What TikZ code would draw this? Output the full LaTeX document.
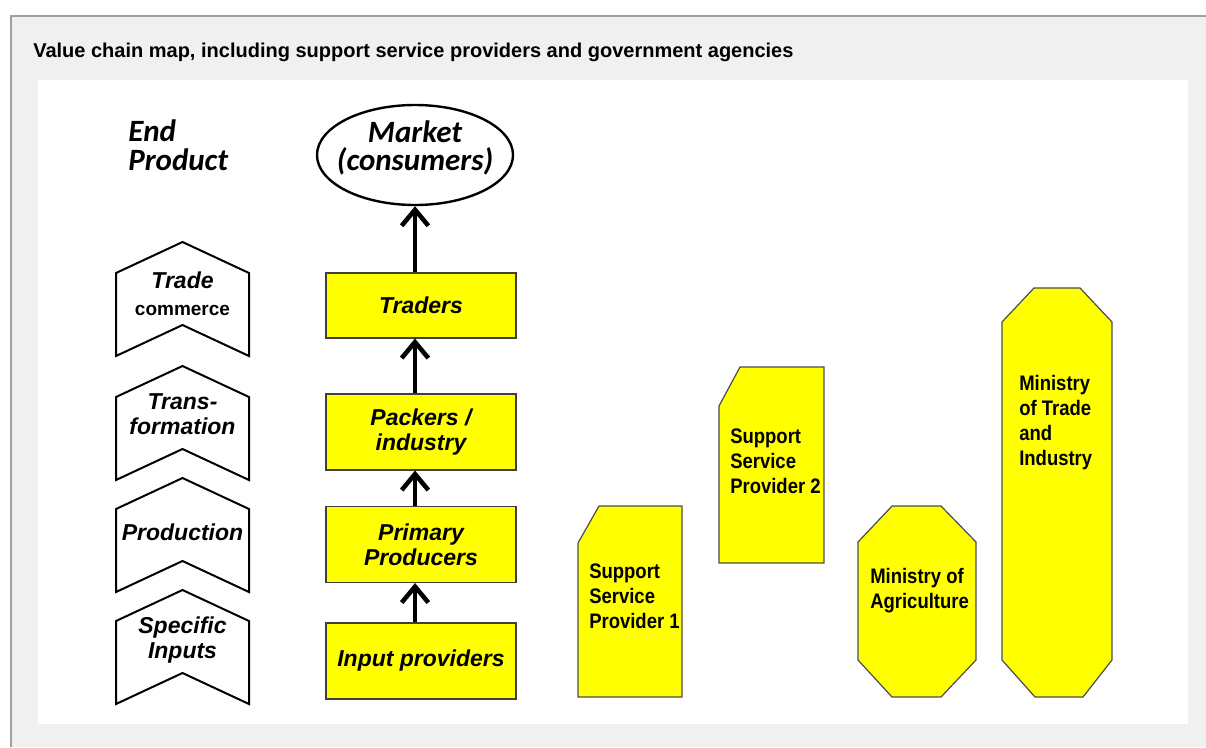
\documentclass[tikz,border=0pt]{standalone}
\usepackage{fontspec}
\setmainfont{Liberation Sans}
\newfontfamily\calfont{Carlito}
\newfontfamily\narrowfont[FakeStretch=0.88]{Liberation Sans}
\usetikzlibrary{arrows.meta,shapes.geometric}
\definecolor{panelgray}{HTML}{F0F0F0}
\definecolor{bordergray}{HTML}{A0A0A0}
\definecolor{boxyellow}{HTML}{FFFF00}
\def\chevron(#1){\draw[line width=1.5pt, fill=white] (116, {#1+31}) -- (182.5, #1) -- (249, {#1+31}) -- (249, {#1+114}) -- (182.5, {#1+83}) -- (116, {#1+114}) -- cycle;}
\tikzset{
  chainbox/.style={draw=black!75, line width=0.8pt, fill=boxyellow, minimum width=142.5pt, inner sep=0pt, align=center, font=\fontsize{17.25}{18.75}\selectfont\bfseries\itshape},
  flow/.style={line width=3.4pt, -{Straight Barb[length=12pt, width=20pt]}},
  stagetext/.style={inner sep=0pt, align=center, font=\fontsize{17.25}{18.75}\selectfont\bfseries\itshape},
  agencytext/.style={inner sep=0pt, anchor=west, align=left, font=\narrowfont\bfseries\fontsize{15.75}{18.75}\selectfont},
  agency/.style={draw=black!70, line width=0.9pt, fill=boxyellow}
}

\begin{document}
\begin{tikzpicture}[x=0.75pt, y=-0.75pt]
			%%%%% START %%%%%
			\useasboundingbox (0, 0) rectangle (1206, 747);
			
			\fill[panelgray] (11, 16) rectangle (1206, 747);
			\draw[bordergray, line width=1pt] (11, 747) -- (11, 16) -- (1206, 16);
			\fill[white] (38, 80) rectangle (1188, 724);
			
			\node[anchor=base west, inner sep=0pt, font=\fontsize{15}{18}\selectfont\bfseries] (title) at (33, 57) {Value chain map, including support service providers and government agencies};
			
			% stages
			\node[anchor=west, inner sep=0pt, align=left, font=\calfont\fontsize{23.25}{21.75}\selectfont\bfseries\itshape] (endproduct) at (128, 145) {End\\Product};
			
			\chevron(242)
			\chevron(366)
			\chevron(478)
			\chevron(590)
			
			\node[stagetext, font=\fontsize{17.25}{20}\selectfont\bfseries\itshape] (trade) at (182.5, 294) {Trade\\{\upshape\fontsize{14.25}{20}\selectfont commerce}};
			\node[stagetext] (transformation) at (182.5, 414) {Trans-\\formation};
			\node[stagetext] (production) at (182.5, 532) {Production};
			\node[stagetext] (specific) at (182.5, 640) {Specific\\Inputs};
			
			% chain
			\node[draw, ellipse, line width=1.8pt, minimum width=147pt, minimum height=75pt, inner sep=0pt] (market) at (415, 155) {};
			\node[inner sep=0pt, align=center, font=\calfont\fontsize{23.25}{21}\selectfont\bfseries\itshape] (markettext) at (415, 148) {Market\\(consumers)};
			
			\node[chainbox, minimum height=48.75pt] (traders) at (421, 305.5) {Traders};
			\node[chainbox, minimum height=57pt] (packers) at (421, 432) {Packers /\\industry};
			\node[chainbox, minimum height=57pt] (primary) at (421, 544.5) {Primary\\Producers};
			\node[chainbox, minimum height=57pt] (input) at (421, 661) {Input providers};
			
			\draw[flow] (traders.north -| market) -- (market.south);
			\draw[flow] (packers.north -| market) -- (traders.south -| market);
			\draw[flow] (primary.north -| market) -- (packers.south -| market);
			\draw[flow] (input.north -| market) -- (primary.south -| market);
			
			% support services and agencies
			\draw[agency] (599, 506) -- (682, 506) -- (682, 697) -- (578, 697) -- (578, 543) -- cycle;
			\node[agencytext] (ssp1) at (589, 596) {Support\\Service\\Provider 1};
			
			\draw[agency] (740, 367) -- (824, 367) -- (824, 563) -- (719, 563) -- (719, 406) -- cycle;
			\node[agencytext] (ssp2) at (730, 461) {Support\\Service\\Provider 2};
			
			\draw[agency] (892, 506) -- (941, 506) -- (976, 542) -- (976, 660) -- (941, 697) -- (892, 697) -- (858, 660) -- (858, 542) -- cycle;
			\node[agencytext] (agriculture) at (870, 591) {Ministry of\\Agriculture};
			
			\draw[agency] (1034, 288) -- (1080, 288) -- (1112, 322) -- (1112, 660) -- (1083, 697) -- (1035, 697) -- (1002, 660) -- (1002, 322) -- cycle;
			\node[agencytext] (tradeindustry) at (1019, 423) {Ministry\\of Trade\\and\\Industry};
			
			%%%%% END %%%%%
\end{tikzpicture}
\end{document}
